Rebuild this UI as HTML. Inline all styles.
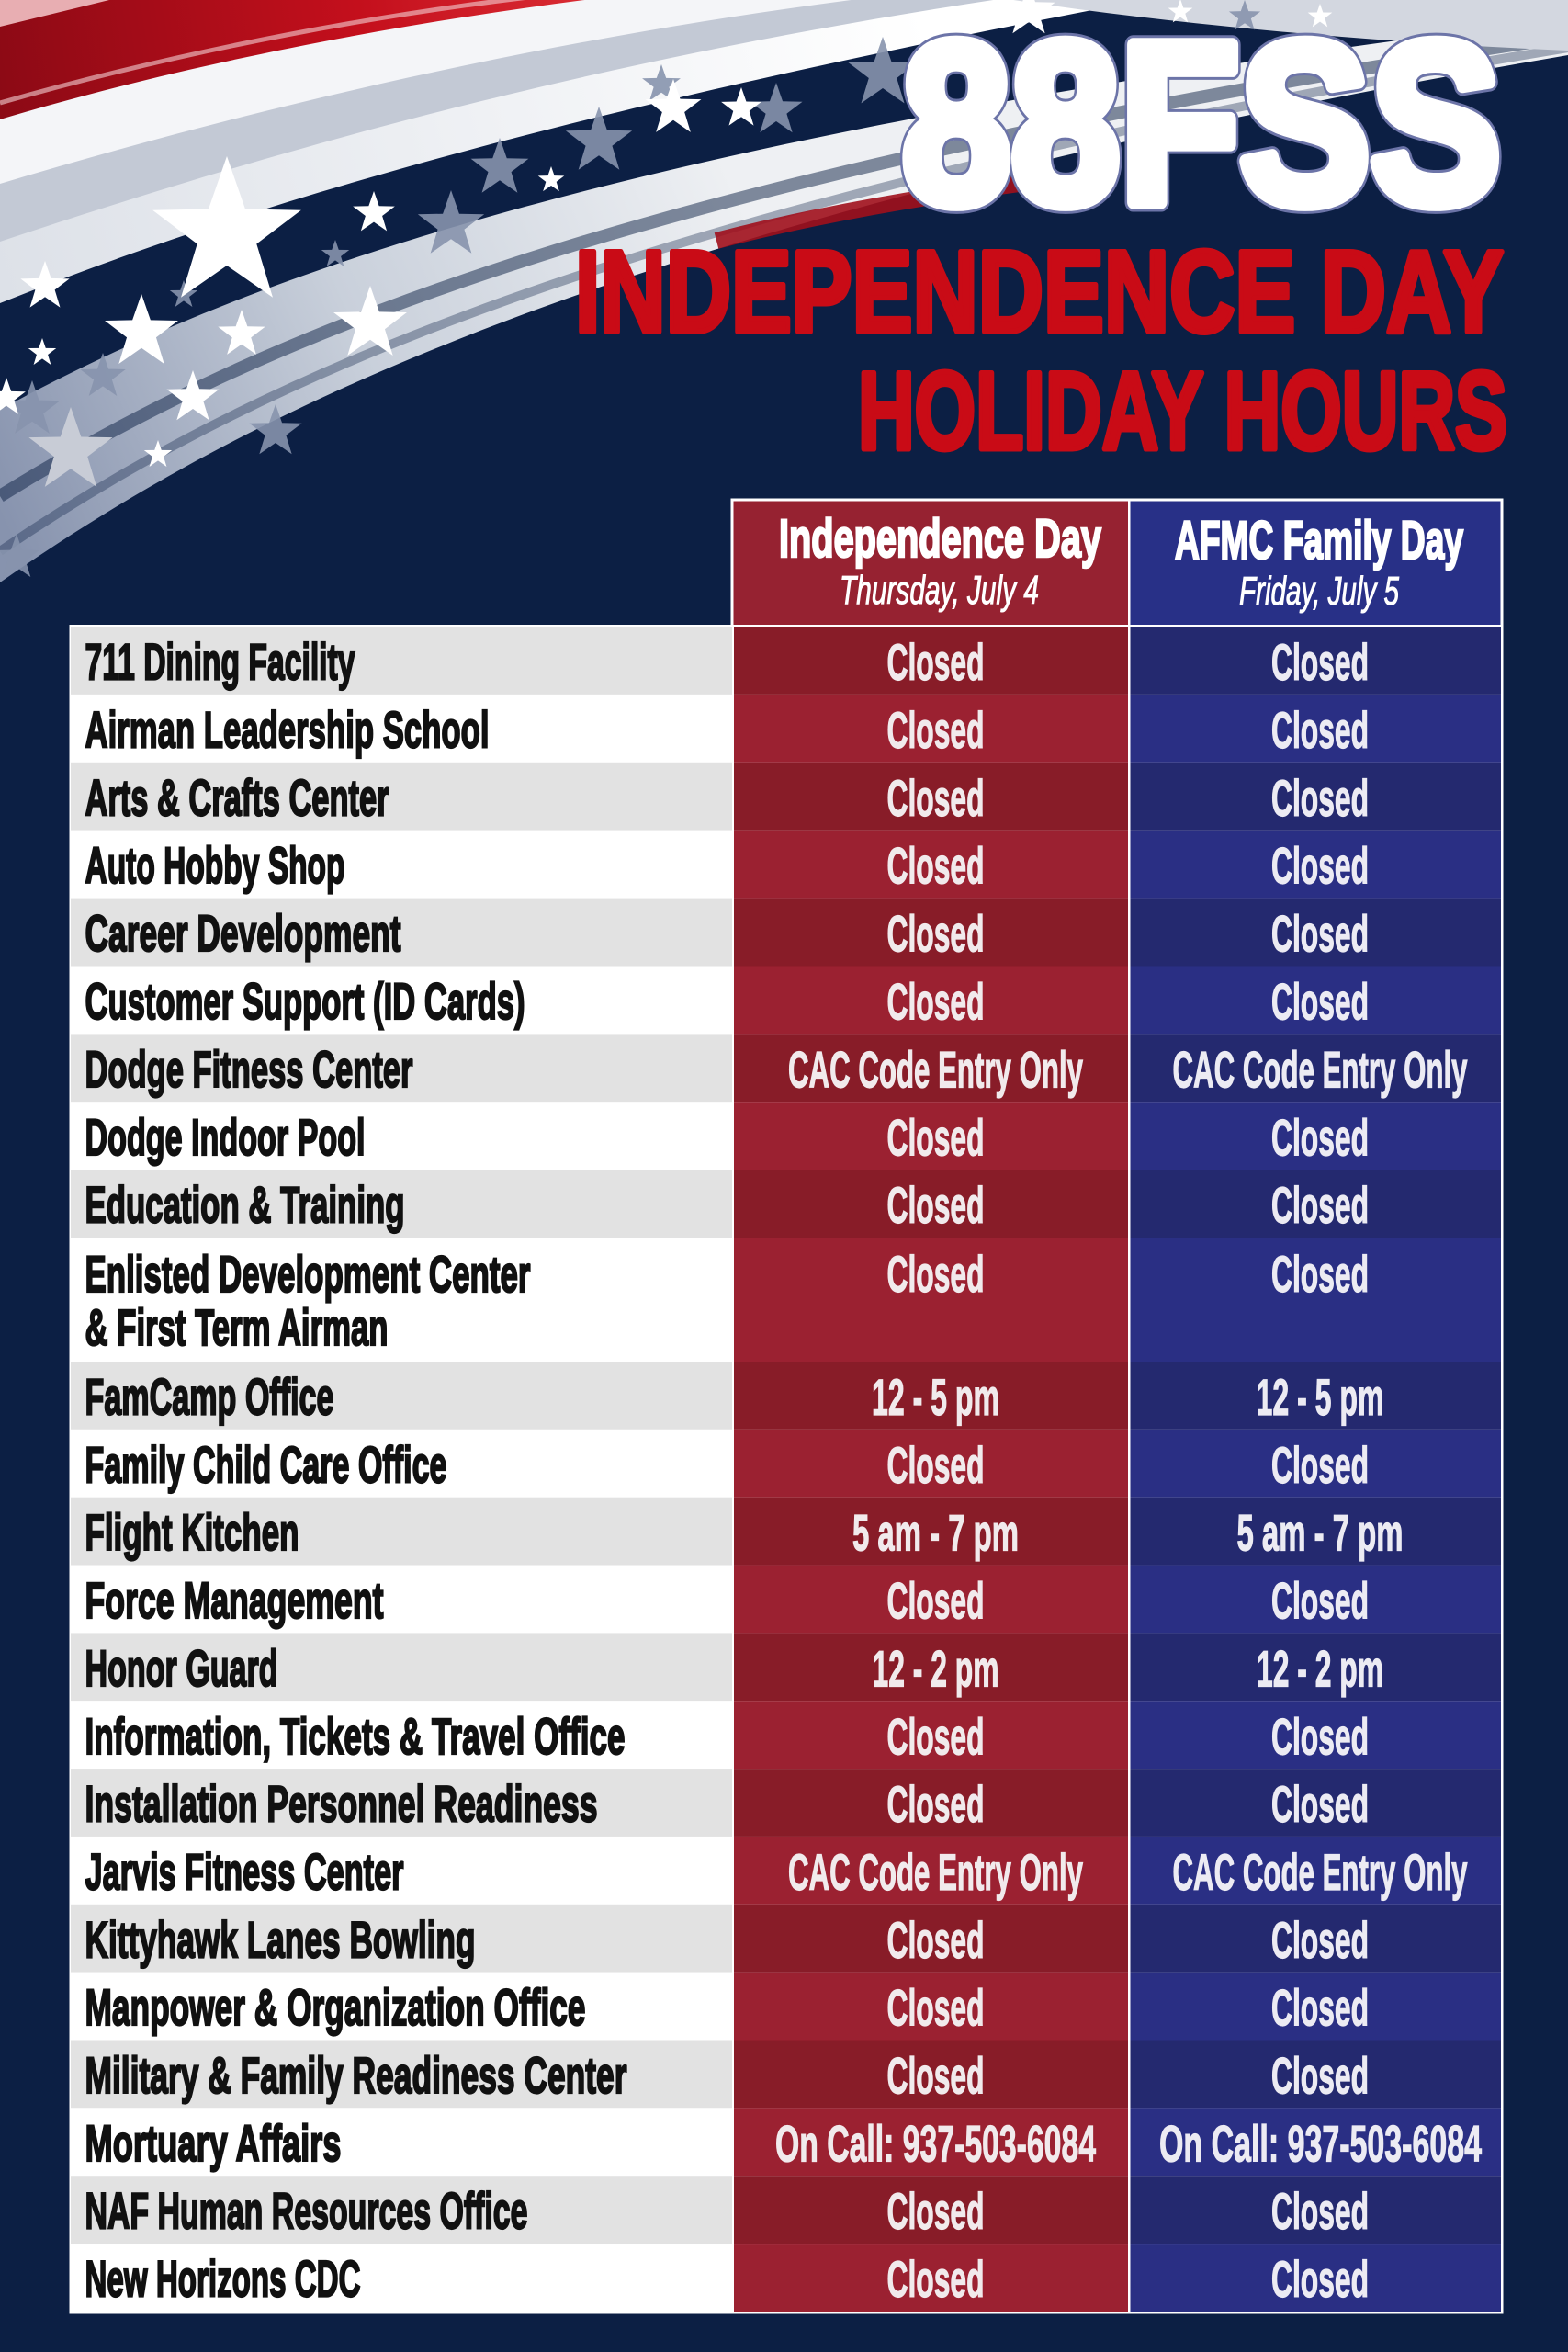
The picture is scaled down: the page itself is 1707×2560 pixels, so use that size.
<!DOCTYPE html>
<html>
<head>
<meta charset="utf-8">
<style>
html,body{margin:0;padding:0;background:#0c1f44;}
body{width:1707px;height:2560px;overflow:hidden;}
svg{display:block;}
.t{font-family:"Liberation Sans",Arial,sans-serif;}
.nm{font-family:"Liberation Sans",Arial,sans-serif;font-weight:bold;font-size:56px;fill:#111;stroke:#111;stroke-width:2.2px;}
.vl{font-family:"Liberation Sans",Arial,sans-serif;font-weight:bold;font-size:56px;fill:#f1eaec;stroke:#f1eaec;stroke-width:1.2px;}
.vb{font-family:"Liberation Sans",Arial,sans-serif;font-weight:bold;font-size:56px;fill:#ecebf3;stroke:#ecebf3;stroke-width:1.2px;}
</style>
</head>
<body>
<svg width="1707" height="2560" viewBox="0 0 1707 2560" xmlns="http://www.w3.org/2000/svg">
<defs>
<path id="st" d="M0,-1 L0.235,-0.324 L0.951,-0.309 L0.38,0.124 L0.588,0.809 L0,0.4 L-0.588,0.809 L-0.38,0.124 L-0.951,-0.309 L-0.235,-0.324 Z"/>
<linearGradient id="gRed" gradientUnits="userSpaceOnUse" x1="0" y1="110" x2="720" y2="0">
<stop offset="0" stop-color="#8c0a15"/><stop offset="0.55" stop-color="#c40f1c"/><stop offset="1" stop-color="#e0353b"/>
</linearGradient>
<linearGradient id="gLow" gradientUnits="userSpaceOnUse" x1="0" y1="560" x2="800" y2="200">
<stop offset="0" stop-color="#8793ae"/><stop offset="0.5" stop-color="#c9d0db"/><stop offset="1" stop-color="#eef0f3"/>
</linearGradient>
<linearGradient id="gWhite" gradientUnits="userSpaceOnUse" x1="0" y1="300" x2="1000" y2="0">
<stop offset="0" stop-color="#dde1e8"/><stop offset="1" stop-color="#ffffff"/>
</linearGradient>
</defs>

<rect width="1707" height="2560" fill="#0c1f44"/>

<!-- flag swoosh -->
<path d="M0,634 C250,460 650,240 1707,60 L1707,-10 L0,-10 Z" fill="url(#gLow)"/>
<path d="M0,540 C250,385 650,195 1707,40" stroke="#0c1f44" stroke-width="14" fill="none" opacity="0.5"/>
<path d="M0,600 C250,430 650,225 1707,52" stroke="#0c1f44" stroke-width="10" fill="none" opacity="0.35"/>
<path d="M780,262 C880,236 990,216 1110,200" stroke="#a0101c" stroke-width="18" fill="none" opacity="0.9"/>
<path d="M0,446 C250,310 650,150 1707,20 L1707,-10 L0,-10 Z" fill="#0c1f44"/>
<path d="M0,330 C250,230 600,120 1300,-10 L0,-10 Z" fill="url(#gWhite)"/>
<path d="M0,263 C280,170 650,60 1150,-10 L0,-10 Z" fill="#c3c9d5"/>
<path d="M0,200 C300,110 650,30 1010,-10 L0,-10 Z" fill="#f4f5f8"/>
<path d="M0,130 C200,70 450,20 720,-10 L0,-10 Z" fill="url(#gRed)"/>
<path d="M0,112 C200,55 420,12 640,-10" stroke="#f3d0d3" stroke-width="5" fill="none" opacity="0.6"/>
<path d="M0,29 L160,-10 L0,-10 Z" fill="#e8aeb2"/>
<path d="M1040,-10 C1250,25 1480,45 1707,55 L1707,-10 Z" fill="#d3d7e0"/>

<!-- gray stars -->
<g fill="#8793ad" opacity="0.9">
<use href="#st" transform="translate(491 245) scale(38)"/>
<use href="#st" transform="translate(544 183) scale(33)"/>
<use href="#st" transform="translate(652 154) scale(38)"/>
<use href="#st" transform="translate(845 120) scale(30)"/>
<use href="#st" transform="translate(200 321) scale(16)"/>
<use href="#st" transform="translate(112 410) scale(26)"/>
<use href="#st" transform="translate(35 446) scale(32)"/>
<use href="#st" transform="translate(365 277) scale(16)"/>
<use href="#st" transform="translate(18 607) scale(26)"/>
<use href="#st" transform="translate(961 80) scale(40)"/>
<use href="#st" transform="translate(720 92) scale(22)"/>
<use href="#st" transform="translate(1355 18) scale(18)"/>
<use href="#st" transform="translate(300 470) scale(30)"/>
</g>
<!-- white stars -->
<g fill="#ffffff">
<use href="#st" transform="translate(247 255) scale(85)"/>
<use href="#st" transform="translate(49 312) scale(28)"/>
<use href="#st" transform="translate(154 362) scale(42)"/>
<use href="#st" transform="translate(46 384) scale(16)"/>
<use href="#st" transform="translate(263 364) scale(27)"/>
<use href="#st" transform="translate(407 232) scale(24)"/>
<use href="#st" transform="translate(210 433) scale(30)"/>
<use href="#st" transform="translate(403 353) scale(42)"/>
<use href="#st" transform="translate(600 196) scale(15)"/>
<use href="#st" transform="translate(733 118) scale(32)"/>
<use href="#st" transform="translate(807 118) scale(23)"/>
<use href="#st" transform="translate(172 495) scale(16)"/>
<use href="#st" transform="translate(7 433) scale(22)"/>
<use href="#st" transform="translate(1120 12) scale(30)"/>
<use href="#st" transform="translate(1285 13) scale(14)"/>
<use href="#st" transform="translate(1437 18) scale(14)"/>
</g>
<use href="#st" transform="translate(77 491) scale(48)" fill="#c8ccd6"/>

<!-- Title -->
<text class="t" x="982" y="220" textLength="652" lengthAdjust="spacingAndGlyphs" font-size="249" font-weight="bold" fill="#ffffff" stroke="#6c74a8" stroke-width="21" stroke-linejoin="round">88FSS</text>
<text class="t" x="982" y="220" textLength="652" lengthAdjust="spacingAndGlyphs" font-size="249" font-weight="bold" fill="#ffffff" stroke="#ffffff" stroke-width="15" stroke-linejoin="round">88FSS</text>
<text class="t" x="626" y="361" textLength="1011" lengthAdjust="spacingAndGlyphs" font-size="126" font-weight="bold" fill="#c90b16" stroke="#c90b16" stroke-width="6" stroke-linejoin="round">INDEPENDENCE DAY</text>
<text class="t" x="934" y="488.5" textLength="707" lengthAdjust="spacingAndGlyphs" font-size="120" font-weight="bold" fill="#c90b16" stroke="#c90b16" stroke-width="6" stroke-linejoin="round">HOLIDAY HOURS</text>

<!-- Header box -->
<rect x="795.5" y="542.5" width="841" height="141" fill="#ffffff"/>
<rect x="798.5" y="545.5" width="429.5" height="135" fill="#962231"/>
<rect x="1230.5" y="545.5" width="403" height="135" fill="#283087"/>
<text class="t" x="848" y="606" textLength="351" lengthAdjust="spacingAndGlyphs" font-size="58" font-weight="bold" fill="#fff" stroke="#fff" stroke-width="2.5">Independence Day</text>
<text class="t" x="914" y="657" textLength="217" lengthAdjust="spacingAndGlyphs" font-size="44" font-style="italic" fill="#fff" stroke="#fff" stroke-width="1">Thursday, July 4</text>
<text class="t" x="1279" y="608" textLength="314" lengthAdjust="spacingAndGlyphs" font-size="58" font-weight="bold" fill="#fff" stroke="#fff" stroke-width="2.5">AFMC Family Day</text>
<text class="t" x="1349" y="658" textLength="174" lengthAdjust="spacingAndGlyphs" font-size="44" font-style="italic" fill="#fff" stroke="#fff" stroke-width="1">Friday, July 5</text>

<!-- Body backdrop (white borders) -->
<rect x="75.5" y="680" width="1561" height="1838.5" fill="#ffffff"/>

<!-- Row backgrounds -->
<g>
<rect x="77" y="682" width="720" height="73.9" fill="#e2e2e2"/><rect x="799" y="682" width="429" height="73.9" fill="#881c28"/><rect x="1230.5" y="682" width="403.5" height="73.9" fill="#24296f"/>
<rect x="77" y="755.9" width="720" height="73.9" fill="#ffffff"/><rect x="799" y="755.9" width="429" height="73.9" fill="#9b2131"/><rect x="1230.5" y="755.9" width="403.5" height="73.9" fill="#2a2f84"/>
<rect x="77" y="829.8" width="720" height="73.9" fill="#e2e2e2"/><rect x="799" y="829.8" width="429" height="73.9" fill="#881c28"/><rect x="1230.5" y="829.8" width="403.5" height="73.9" fill="#24296f"/>
<rect x="77" y="903.7" width="720" height="73.9" fill="#ffffff"/><rect x="799" y="903.7" width="429" height="73.9" fill="#9b2131"/><rect x="1230.5" y="903.7" width="403.5" height="73.9" fill="#2a2f84"/>
<rect x="77" y="977.6" width="720" height="73.9" fill="#e2e2e2"/><rect x="799" y="977.6" width="429" height="73.9" fill="#881c28"/><rect x="1230.5" y="977.6" width="403.5" height="73.9" fill="#24296f"/>
<rect x="77" y="1051.5" width="720" height="73.9" fill="#ffffff"/><rect x="799" y="1051.5" width="429" height="73.9" fill="#9b2131"/><rect x="1230.5" y="1051.5" width="403.5" height="73.9" fill="#2a2f84"/>
<rect x="77" y="1125.4" width="720" height="73.9" fill="#e2e2e2"/><rect x="799" y="1125.4" width="429" height="73.9" fill="#881c28"/><rect x="1230.5" y="1125.4" width="403.5" height="73.9" fill="#24296f"/>
<rect x="77" y="1199.3" width="720" height="73.9" fill="#ffffff"/><rect x="799" y="1199.3" width="429" height="73.9" fill="#9b2131"/><rect x="1230.5" y="1199.3" width="403.5" height="73.9" fill="#2a2f84"/>
<rect x="77" y="1273.2" width="720" height="73.9" fill="#e2e2e2"/><rect x="799" y="1273.2" width="429" height="73.9" fill="#881c28"/><rect x="1230.5" y="1273.2" width="403.5" height="73.9" fill="#24296f"/>
<rect x="77" y="1347.1" width="720" height="134.9" fill="#ffffff"/><rect x="799" y="1347.1" width="429" height="134.9" fill="#9b2131"/><rect x="1230.5" y="1347.1" width="403.5" height="134.9" fill="#2a2f84"/>
<rect x="77" y="1482" width="720" height="73.85" fill="#e2e2e2"/><rect x="799" y="1482" width="429" height="73.85" fill="#881c28"/><rect x="1230.5" y="1482" width="403.5" height="73.85" fill="#24296f"/>
<rect x="77" y="1555.85" width="720" height="73.85" fill="#ffffff"/><rect x="799" y="1555.85" width="429" height="73.85" fill="#9b2131"/><rect x="1230.5" y="1555.85" width="403.5" height="73.85" fill="#2a2f84"/>
<rect x="77" y="1629.7" width="720" height="73.85" fill="#e2e2e2"/><rect x="799" y="1629.7" width="429" height="73.85" fill="#881c28"/><rect x="1230.5" y="1629.7" width="403.5" height="73.85" fill="#24296f"/>
<rect x="77" y="1703.55" width="720" height="73.85" fill="#ffffff"/><rect x="799" y="1703.55" width="429" height="73.85" fill="#9b2131"/><rect x="1230.5" y="1703.55" width="403.5" height="73.85" fill="#2a2f84"/>
<rect x="77" y="1777.4" width="720" height="73.85" fill="#e2e2e2"/><rect x="799" y="1777.4" width="429" height="73.85" fill="#881c28"/><rect x="1230.5" y="1777.4" width="403.5" height="73.85" fill="#24296f"/>
<rect x="77" y="1851.25" width="720" height="73.85" fill="#ffffff"/><rect x="799" y="1851.25" width="429" height="73.85" fill="#9b2131"/><rect x="1230.5" y="1851.25" width="403.5" height="73.85" fill="#2a2f84"/>
<rect x="77" y="1925.1" width="720" height="73.85" fill="#e2e2e2"/><rect x="799" y="1925.1" width="429" height="73.85" fill="#881c28"/><rect x="1230.5" y="1925.1" width="403.5" height="73.85" fill="#24296f"/>
<rect x="77" y="1998.95" width="720" height="73.85" fill="#ffffff"/><rect x="799" y="1998.95" width="429" height="73.85" fill="#9b2131"/><rect x="1230.5" y="1998.95" width="403.5" height="73.85" fill="#2a2f84"/>
<rect x="77" y="2072.8" width="720" height="73.85" fill="#e2e2e2"/><rect x="799" y="2072.8" width="429" height="73.85" fill="#881c28"/><rect x="1230.5" y="2072.8" width="403.5" height="73.85" fill="#24296f"/>
<rect x="77" y="2146.65" width="720" height="73.85" fill="#ffffff"/><rect x="799" y="2146.65" width="429" height="73.85" fill="#9b2131"/><rect x="1230.5" y="2146.65" width="403.5" height="73.85" fill="#2a2f84"/>
<rect x="77" y="2220.5" width="720" height="73.85" fill="#e2e2e2"/><rect x="799" y="2220.5" width="429" height="73.85" fill="#881c28"/><rect x="1230.5" y="2220.5" width="403.5" height="73.85" fill="#24296f"/>
<rect x="77" y="2294.35" width="720" height="73.85" fill="#ffffff"/><rect x="799" y="2294.35" width="429" height="73.85" fill="#9b2131"/><rect x="1230.5" y="2294.35" width="403.5" height="73.85" fill="#2a2f84"/>
<rect x="77" y="2368.2" width="720" height="73.85" fill="#e2e2e2"/><rect x="799" y="2368.2" width="429" height="73.85" fill="#881c28"/><rect x="1230.5" y="2368.2" width="403.5" height="73.85" fill="#24296f"/>
<rect x="77" y="2442.05" width="720" height="73.95" fill="#ffffff"/><rect x="799" y="2442.05" width="429" height="73.95" fill="#9b2131"/><rect x="1230.5" y="2442.05" width="403.5" height="73.95" fill="#2a2f84"/>
</g>

<!-- Names -->
<g>
<text class="nm" x="92.5" y="739.5" textLength="294" lengthAdjust="spacingAndGlyphs">711 Dining Facility</text>
<text class="nm" x="92.5" y="813.4" textLength="440" lengthAdjust="spacingAndGlyphs">Airman Leadership School</text>
<text class="nm" x="92.5" y="887.3" textLength="331" lengthAdjust="spacingAndGlyphs">Arts &amp; Crafts Center</text>
<text class="nm" x="92.5" y="961.2" textLength="283" lengthAdjust="spacingAndGlyphs">Auto Hobby Shop</text>
<text class="nm" x="92.5" y="1035.1" textLength="344" lengthAdjust="spacingAndGlyphs">Career Development</text>
<text class="nm" x="92.5" y="1109" textLength="479" lengthAdjust="spacingAndGlyphs">Customer Support (ID Cards)</text>
<text class="nm" x="92.5" y="1182.9" textLength="357" lengthAdjust="spacingAndGlyphs">Dodge Fitness Center</text>
<text class="nm" x="92.5" y="1256.8" textLength="305" lengthAdjust="spacingAndGlyphs">Dodge Indoor Pool</text>
<text class="nm" x="92.5" y="1330.7" textLength="348" lengthAdjust="spacingAndGlyphs">Education &amp; Training</text>
<text class="nm" x="92.5" y="1406" textLength="485" lengthAdjust="spacingAndGlyphs">Enlisted Development Center</text>
<text class="nm" x="92.5" y="1464" textLength="330" lengthAdjust="spacingAndGlyphs">&amp; First Term Airman</text>
<text class="nm" x="92.5" y="1539.5" textLength="271" lengthAdjust="spacingAndGlyphs">FamCamp Office</text>
<text class="nm" x="92.5" y="1613.35" textLength="394" lengthAdjust="spacingAndGlyphs">Family Child Care Office</text>
<text class="nm" x="92.5" y="1687.2" textLength="233" lengthAdjust="spacingAndGlyphs">Flight Kitchen</text>
<text class="nm" x="92.5" y="1761.05" textLength="325" lengthAdjust="spacingAndGlyphs">Force Management</text>
<text class="nm" x="92.5" y="1834.9" textLength="210" lengthAdjust="spacingAndGlyphs">Honor Guard</text>
<text class="nm" x="92.5" y="1908.75" textLength="588" lengthAdjust="spacingAndGlyphs">Information, Tickets &amp; Travel Office</text>
<text class="nm" x="92.5" y="1982.6" textLength="558" lengthAdjust="spacingAndGlyphs">Installation Personnel Readiness</text>
<text class="nm" x="92.5" y="2056.45" textLength="347" lengthAdjust="spacingAndGlyphs">Jarvis Fitness Center</text>
<text class="nm" x="92.5" y="2130.3" textLength="425" lengthAdjust="spacingAndGlyphs">Kittyhawk Lanes Bowling</text>
<text class="nm" x="92.5" y="2204.15" textLength="545" lengthAdjust="spacingAndGlyphs">Manpower &amp; Organization Office</text>
<text class="nm" x="92.5" y="2278" textLength="590" lengthAdjust="spacingAndGlyphs">Military &amp; Family Readiness Center</text>
<text class="nm" x="92.5" y="2351.85" textLength="279" lengthAdjust="spacingAndGlyphs">Mortuary Affairs</text>
<text class="nm" x="92.5" y="2425.7" textLength="482" lengthAdjust="spacingAndGlyphs">NAF Human Resources Office</text>
<text class="nm" x="92.5" y="2499.55" textLength="300" lengthAdjust="spacingAndGlyphs">New Horizons CDC</text>
</g>

<!-- Independence Day values -->
<g>
<text class="vl" x="965.5" y="740" textLength="106" lengthAdjust="spacingAndGlyphs">Closed</text>
<text class="vl" x="965.5" y="813.9" textLength="106" lengthAdjust="spacingAndGlyphs">Closed</text>
<text class="vl" x="965.5" y="887.8" textLength="106" lengthAdjust="spacingAndGlyphs">Closed</text>
<text class="vl" x="965.5" y="961.7" textLength="106" lengthAdjust="spacingAndGlyphs">Closed</text>
<text class="vl" x="965.5" y="1035.6" textLength="106" lengthAdjust="spacingAndGlyphs">Closed</text>
<text class="vl" x="965.5" y="1109.5" textLength="106" lengthAdjust="spacingAndGlyphs">Closed</text>
<text class="vl" x="858" y="1183.4" textLength="321" lengthAdjust="spacingAndGlyphs">CAC Code Entry Only</text>
<text class="vl" x="965.5" y="1257.3" textLength="106" lengthAdjust="spacingAndGlyphs">Closed</text>
<text class="vl" x="965.5" y="1331.2" textLength="106" lengthAdjust="spacingAndGlyphs">Closed</text>
<text class="vl" x="965.5" y="1406" textLength="106" lengthAdjust="spacingAndGlyphs">Closed</text>
<text class="vl" x="949" y="1540" textLength="139" lengthAdjust="spacingAndGlyphs">12 - 5 pm</text>
<text class="vl" x="965.5" y="1613.85" textLength="106" lengthAdjust="spacingAndGlyphs">Closed</text>
<text class="vl" x="928" y="1687.7" textLength="181" lengthAdjust="spacingAndGlyphs">5 am - 7 pm</text>
<text class="vl" x="965.5" y="1761.55" textLength="106" lengthAdjust="spacingAndGlyphs">Closed</text>
<text class="vl" x="949.5" y="1835.4" textLength="138" lengthAdjust="spacingAndGlyphs">12 - 2 pm</text>
<text class="vl" x="965.5" y="1909.25" textLength="106" lengthAdjust="spacingAndGlyphs">Closed</text>
<text class="vl" x="965.5" y="1983.1" textLength="106" lengthAdjust="spacingAndGlyphs">Closed</text>
<text class="vl" x="858" y="2056.95" textLength="321" lengthAdjust="spacingAndGlyphs">CAC Code Entry Only</text>
<text class="vl" x="965.5" y="2130.8" textLength="106" lengthAdjust="spacingAndGlyphs">Closed</text>
<text class="vl" x="965.5" y="2204.65" textLength="106" lengthAdjust="spacingAndGlyphs">Closed</text>
<text class="vl" x="965.5" y="2278.5" textLength="106" lengthAdjust="spacingAndGlyphs">Closed</text>
<text class="vl" x="844" y="2352.35" textLength="349" lengthAdjust="spacingAndGlyphs">On Call: 937-503-6084</text>
<text class="vl" x="965.5" y="2426.2" textLength="106" lengthAdjust="spacingAndGlyphs">Closed</text>
<text class="vl" x="965.5" y="2500.05" textLength="106" lengthAdjust="spacingAndGlyphs">Closed</text>
</g>

<!-- AFMC Family Day values -->
<g>
<text class="vb" x="1384" y="740" textLength="106" lengthAdjust="spacingAndGlyphs">Closed</text>
<text class="vb" x="1384" y="813.9" textLength="106" lengthAdjust="spacingAndGlyphs">Closed</text>
<text class="vb" x="1384" y="887.8" textLength="106" lengthAdjust="spacingAndGlyphs">Closed</text>
<text class="vb" x="1384" y="961.7" textLength="106" lengthAdjust="spacingAndGlyphs">Closed</text>
<text class="vb" x="1384" y="1035.6" textLength="106" lengthAdjust="spacingAndGlyphs">Closed</text>
<text class="vb" x="1384" y="1109.5" textLength="106" lengthAdjust="spacingAndGlyphs">Closed</text>
<text class="vb" x="1276.5" y="1183.4" textLength="321" lengthAdjust="spacingAndGlyphs">CAC Code Entry Only</text>
<text class="vb" x="1384" y="1257.3" textLength="106" lengthAdjust="spacingAndGlyphs">Closed</text>
<text class="vb" x="1384" y="1331.2" textLength="106" lengthAdjust="spacingAndGlyphs">Closed</text>
<text class="vb" x="1384" y="1406" textLength="106" lengthAdjust="spacingAndGlyphs">Closed</text>
<text class="vb" x="1367.5" y="1540" textLength="139" lengthAdjust="spacingAndGlyphs">12 - 5 pm</text>
<text class="vb" x="1384" y="1613.85" textLength="106" lengthAdjust="spacingAndGlyphs">Closed</text>
<text class="vb" x="1346.5" y="1687.7" textLength="181" lengthAdjust="spacingAndGlyphs">5 am - 7 pm</text>
<text class="vb" x="1384" y="1761.55" textLength="106" lengthAdjust="spacingAndGlyphs">Closed</text>
<text class="vb" x="1368" y="1835.4" textLength="138" lengthAdjust="spacingAndGlyphs">12 - 2 pm</text>
<text class="vb" x="1384" y="1909.25" textLength="106" lengthAdjust="spacingAndGlyphs">Closed</text>
<text class="vb" x="1384" y="1983.1" textLength="106" lengthAdjust="spacingAndGlyphs">Closed</text>
<text class="vb" x="1276.5" y="2056.95" textLength="321" lengthAdjust="spacingAndGlyphs">CAC Code Entry Only</text>
<text class="vb" x="1384" y="2130.8" textLength="106" lengthAdjust="spacingAndGlyphs">Closed</text>
<text class="vb" x="1384" y="2204.65" textLength="106" lengthAdjust="spacingAndGlyphs">Closed</text>
<text class="vb" x="1384" y="2278.5" textLength="106" lengthAdjust="spacingAndGlyphs">Closed</text>
<text class="vb" x="1262" y="2352.35" textLength="351" lengthAdjust="spacingAndGlyphs">On Call: 937-503-6084</text>
<text class="vb" x="1384" y="2426.2" textLength="106" lengthAdjust="spacingAndGlyphs">Closed</text>
<text class="vb" x="1384" y="2500.05" textLength="106" lengthAdjust="spacingAndGlyphs">Closed</text>
</g>
</svg>
</body>
</html>
